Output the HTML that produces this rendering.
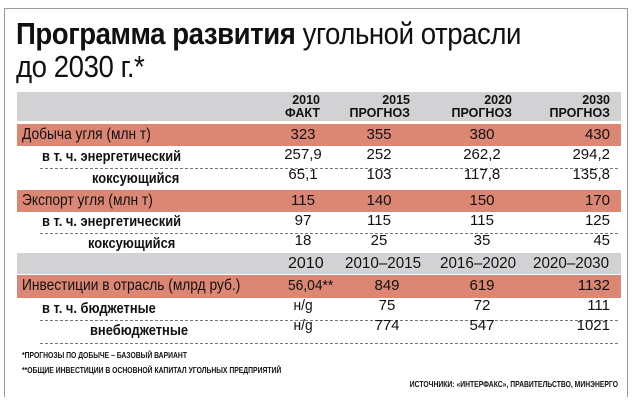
<!DOCTYPE html><html><head><meta charset="utf-8"><style>
body{margin:0;width:638px;height:415px;background:#fff;position:relative;overflow:hidden;font-family:"Liberation Sans",sans-serif;color:#111}
.a{position:absolute;white-space:nowrap}
.n{transform:scaleX(.86);transform-origin:left top}
.band{position:absolute;left:17px;width:604px}
.g{background:#d2d2d4}.s{background:#dc8774}
.d{position:absolute;left:40px;width:578px;border-top:1px dashed #777}
.r{font-size:15px;line-height:20px}
.c{text-align:center;width:60px}
.h{font-weight:bold;font-size:12.5px;line-height:13px;text-align:right}
.f{font-weight:bold;font-size:8.5px}
</style></head><body>
<div class="a" style="left:4px;top:8px;width:622px;height:388px;border:1px solid #999;border-bottom:none"></div>
<div class="a n" style="left:16px;top:17px;font-size:31px;line-height:33px;letter-spacing:-0.5px;transform:scaleX(.89)"><b style="font-weight:900">Программа развития</b> угольной отрасли<br>до 2030 г.*</div>

<div class="band g" style="top:92px;height:29px"></div>
<div class="a h" style="left:250px;top:94px;width:70px">2010<br>ФАКТ</div>
<div class="a h" style="left:330px;top:94px;width:80px">2015<br>ПРОГНОЗ</div>
<div class="a h" style="left:432px;top:94px;width:80px">2020<br>ПРОГНОЗ</div>
<div class="a h" style="left:530px;top:94px;width:80px">2030<br>ПРОГНОЗ</div>

<div class="band s" style="top:124px;height:22px"></div>
<div class="a r n" style="left:22px;top:125px;font-size:16px">Добыча угля (млн т)</div>
<div class="a r n" style="left:42px;top:147px;font-weight:bold">в т. ч. энергетический</div>
<div class="d" style="top:168px"></div>
<div class="a r n" style="left:92px;top:169px;font-weight:bold">коксующийся</div>
<div class="band s" style="top:190px;height:22px"></div>
<div class="a r n" style="left:22px;top:191px;font-size:16px">Экспорт угля (млн т)</div>
<div class="a r n" style="left:42px;top:212px;font-weight:bold">в т. ч. энергетический</div>
<div class="d" style="top:233px"></div>
<div class="a r n" style="left:88px;top:234px;font-weight:bold">коксующийся</div>

<div class="a r c" style="left:273px;top:125px">323<br>257,9<br>65,1</div>
<div class="a r c" style="left:349px;top:125px">355<br>252<br>103</div>
<div class="a r c" style="left:452px;top:125px">380<br>262,2<br>117,8</div>
<div class="a r" style="left:550px;top:125px;width:60px;text-align:right">430<br>294,2<br>135,8</div>
<div class="a r c" style="left:273px;top:191px">115<br>97<br>18</div>
<div class="a r c" style="left:349px;top:191px">140<br>115<br>25</div>
<div class="a r c" style="left:452px;top:191px">150<br>115<br>35</div>
<div class="a r" style="left:550px;top:191px;width:60px;text-align:right">170<br>125<br>45</div>

<div class="band g" style="top:253px;height:21px"></div>
<div class="a r" style="left:288px;top:254px;font-size:16px">2010</div>
<div class="a r n" style="left:345px;top:254px;font-size:16px;transform:scaleX(.95)">2010–2015</div>
<div class="a r n" style="left:440px;top:254px;font-size:16px;transform:scaleX(.95)">2016–2020</div>
<div class="a r n" style="left:533px;top:254px;font-size:16px;transform:scaleX(.95)">2020–2030</div>
<div class="band s" style="top:275px;height:23px"></div>
<div class="a r n" style="left:22px;top:276px;font-size:16px">Инвестиции в отрасль (млрд руб.)</div>
<div class="a r n" style="left:42px;top:299px;font-weight:bold">в т. ч. бюджетные</div>
<div class="d" style="top:320px"></div>
<div class="a r n" style="left:90px;top:321px;font-weight:bold">внебюджетные</div>
<div class="d" style="top:343px"></div>
<div class="a r n" style="left:288px;top:276px;transform:scaleX(.92)">56,04**<br><span style="margin-left:6px">н/g</span><br><span style="margin-left:6px">н/g</span></div>
<div class="a r c" style="left:357px;top:276px">849<br>75<br>774</div>
<div class="a r c" style="left:452px;top:276px">619<br>72<br>547</div>
<div class="a r" style="left:550px;top:276px;width:60px;text-align:right">1132<br>111<br>1021</div>

<div class="a f n" style="left:22px;top:350px;transform:scaleX(.8)">*ПРОГНОЗЫ ПО ДОБЫЧЕ – БАЗОВЫЙ ВАРИАНТ</div>
<div class="a f n" style="left:22px;top:365px;transform:scaleX(.8)">**ОБЩИЕ ИНВЕСТИЦИИ В ОСНОВНОЙ КАПИТАЛ УГОЛЬНЫХ ПРЕДПРИЯТИЙ</div>
<div class="a f" style="left:318px;top:379px;width:300px;text-align:right;transform:scaleX(.8);transform-origin:right top">ИСТОЧНИКИ: «ИНТЕРФАКС», ПРАВИТЕЛЬСТВО, МИНЭНЕРГО</div>
</body></html>
